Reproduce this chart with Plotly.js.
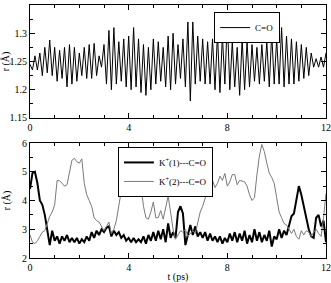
<!DOCTYPE html>
<html>
<head>
<meta charset="utf-8">
<script src="https://cdn.plot.ly/plotly-3.0.1.min.js"></script>
<style>html,body{margin:0;padding:0;background:#fff;}#chart{width:331px;height:283px;}</style>
</head>
<body>
<div id="chart"></div>
<script>
// time step of the sampled series (ps)
var dt = 0.1;

// C=O bond length (Å), sampled every 0.1 ps from 0 to 12 ps
var rCO = [
1.245,1.235,1.26,1.235,1.265,1.225,1.275,1.23,1.288,1.225,
1.275,1.215,1.27,1.22,1.275,1.205,1.28,1.21,1.275,1.215,
1.265,1.225,1.275,1.22,1.28,1.22,1.282,1.225,1.26,1.24,
1.28,1.21,1.305,1.2,1.31,1.21,1.285,1.215,1.29,1.205,
1.295,1.2,1.31,1.205,1.29,1.195,1.28,1.19,1.275,1.2,
1.29,1.21,1.285,1.215,1.275,1.205,1.295,1.2,1.3,1.21,
1.28,1.22,1.29,1.205,1.32,1.18,1.32,1.21,1.295,1.215,
1.29,1.21,1.285,1.21,1.29,1.2,1.3,1.195,1.295,1.21,
1.325,1.2,1.285,1.205,1.275,1.19,1.29,1.2,1.285,1.205,
1.28,1.215,1.275,1.21,1.28,1.215,1.285,1.205,1.30,1.21,
1.29,1.21,1.31,1.205,1.295,1.21,1.29,1.21,1.285,1.215,
1.28,1.22,1.275,1.225,1.265,1.24,1.255,1.24,1.258,1.24,
1.265
];

// K+(1)---C=O distance (Å), every 0.1 ps
var rK1 = [
4.4,4.95,5.0,4.6,4.0,3.85,3.5,3.0,2.45,2.95,
2.6,2.75,2.5,2.75,2.6,2.8,2.55,2.7,2.55,2.7,
2.5,2.65,2.55,2.75,2.6,2.9,2.7,2.95,2.8,3.0,
2.9,3.05,3.1,2.75,2.95,2.8,2.9,2.7,2.8,2.6,
2.7,2.55,2.7,2.55,2.65,2.55,2.75,2.5,2.8,2.6,
2.9,2.6,2.95,2.65,3.0,2.55,3.2,2.7,2.9,2.7,
3.6,3.8,3.55,2.45,2.85,3.15,2.8,3.1,2.75,2.9,
2.7,2.9,2.6,2.85,2.6,2.75,2.55,2.75,2.5,2.7,
2.55,2.85,2.6,2.9,2.55,2.85,2.6,2.95,2.5,2.8,
2.55,3.0,2.6,2.9,2.55,2.8,2.6,2.95,2.4,2.75,
2.65,3.0,2.7,2.95,2.8,3.1,3.45,3.55,4.0,4.5,
4.2,3.8,3.5,3.0,2.75,2.7,3.4,3.5,3.1,3.3,
2.55
];

// K+(2)---C=O distance (Å), every 0.1 ps
var rK2 = [
2.8,2.55,2.5,2.6,2.75,2.9,2.95,3.2,3.45,3.6,
3.85,4.7,4.68,4.6,4.5,4.55,5.0,5.4,5.47,5.35,
5.3,5.45,4.6,4.2,4.0,3.8,3.4,3.3,3.25,3.1,
2.95,3.1,3.25,2.85,3.0,3.3,3.8,4.2,4.8,5.35,
5.1,4.95,5.2,5.47,5.0,4.5,3.8,3.4,3.35,3.6,
3.95,3.4,3.4,3.65,3.35,3.8,4.15,3.6,3.0,2.65,
2.8,2.95,2.9,3.0,2.75,2.85,2.95,2.85,3.2,3.6,
3.8,4.1,4.35,4.5,4.7,4.45,4.6,4.85,4.7,4.94,
4.5,4.65,4.9,4.9,4.55,4.7,4.68,4.65,4.5,4.2,
4.0,4.1,4.9,5.55,5.95,5.7,5.3,4.95,4.8,4.6,
4.1,3.6,3.4,3.2,3.15,3.0,2.85,3.0,2.75,2.65,
2.95,2.8,2.95,2.9,2.75,2.9,3.0,2.85,2.75,3.4,
4.25
];

// labels
var nameCO = 'C=O';
var nameK1 = 'K<sup>+</sup>(1)---C=O';
var nameK2 = 'K<sup>+</sup>(2)---C=O';
var yTitle = 'r (Å)';
var xTitle = 't (ps)';

function timeAxis(arr) { return arr.map(function (_, i) { return +(i * dt).toFixed(2); }); }

var font = {family: '"Liberation Serif", "Times New Roman", serif', size: 10, color: '#000'};
var legFont = {family: '"Liberation Serif", "Times New Roman", serif', size: 9, color: '#000'};

var traces = [
  {x: timeAxis(rCO), y: rCO, name: nameCO, type: 'scatter', mode: 'lines',
   line: {color: '#000', width: 1}, xaxis: 'x', yaxis: 'y', legend: 'legend'},
  {x: timeAxis(rK1), y: rK1, name: nameK1, type: 'scatter', mode: 'lines',
   line: {color: '#000', width: 2}, xaxis: 'x2', yaxis: 'y2', legend: 'legend2'},
  {x: timeAxis(rK2), y: rK2, name: nameK2, type: 'scatter', mode: 'lines',
   line: {color: '#7a7a7a', width: 1}, xaxis: 'x2', yaxis: 'y2', legend: 'legend2'}
];

function axBase(extra) {
  var a = {showline: true, linecolor: '#000', linewidth: 1, mirror: 'allticks',
    ticks: 'inside', ticklen: 5, tickcolor: '#000', tickwidth: 1,
    showgrid: false, zeroline: false, tickfont: font, fixedrange: true, automargin: false};
  for (var k in extra) a[k] = extra[k];
  return a;
}

var layout = {
  width: 331, height: 283,
  margin: {l: 30, r: 5, t: 5, b: 25},
  paper_bgcolor: '#fff', plot_bgcolor: '#fff',
  font: font,
  showlegend: true,
  xaxis: axBase({domain: [0, 1], anchor: 'y', range: [0, 12], tickvals: [0, 4, 8, 12],
    minor: {tickvals: [1,2,3,5,6,7,9,10,11], ticks: 'inside', ticklen: 3, tickcolor: '#000'}}),
  yaxis: axBase({domain: [0.5534, 1], anchor: 'x', range: [1.15, 1.35],
    tickvals: [1.15, 1.2, 1.25, 1.3, 1.35], ticktext: ['1.15', '1.2', '1.25', '1.3', '1.35'],
    minor: {tickvals: [1.175, 1.225, 1.275, 1.325], ticks: 'inside', ticklen: 3, tickcolor: '#000'},
    title: {text: yTitle, font: font, standoff: 4}}),
  xaxis2: axBase({domain: [0, 1], anchor: 'y2', range: [0, 12], tickvals: [0, 4, 8, 12],
    minor: {tickvals: [1,2,3,5,6,7,9,10,11], ticks: 'inside', ticklen: 3, tickcolor: '#000'},
    title: {text: xTitle, font: font, standoff: 4}}),
  yaxis2: axBase({domain: [0, 0.4545], anchor: 'x2', range: [2, 6], tickvals: [2, 3, 4, 5, 6],
    minor: {tickvals: [2.5, 3.5, 4.5, 5.5], ticks: 'inside', ticklen: 3, tickcolor: '#000'},
    title: {text: yTitle, font: font, standoff: 9}}),
  legend: {x: 0.845, y: 0.972, xanchor: 'right', yanchor: 'top', bgcolor: '#fff',
    bordercolor: '#000', borderwidth: 1, font: legFont, itemwidth: 30, tracegroupgap: 0},
  legend2: {x: 0.618, y: 0.439, xanchor: 'right', yanchor: 'top', bgcolor: '#fff',
    bordercolor: '#000', borderwidth: 1, font: legFont, itemwidth: 30, tracegroupgap: 0}
};

Plotly.newPlot('chart', traces, layout, {displayModeBar: false, staticPlot: true});
</script>
</body>
</html>
